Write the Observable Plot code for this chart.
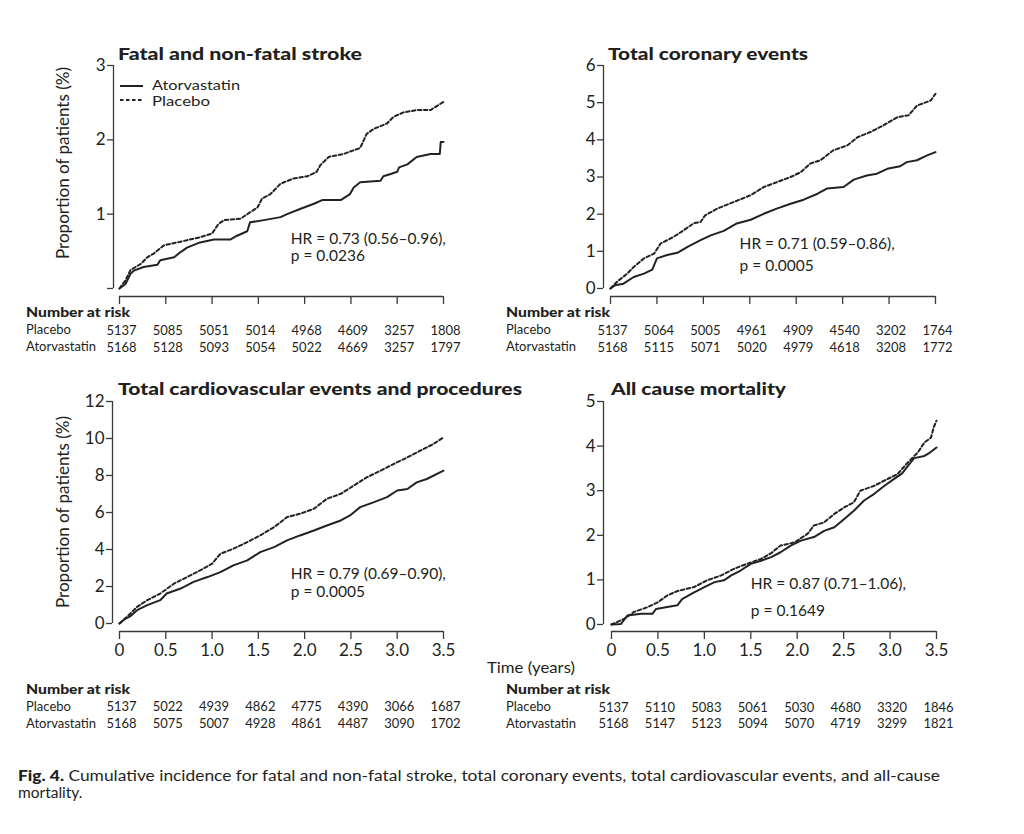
<!DOCTYPE html>
<html><head><meta charset="utf-8">
<script src="https://cdn.jsdelivr.net/npm/d3@7"></script>
<script src="https://cdn.jsdelivr.net/npm/@observablehq/plot@0.6"></script>
<style>
body{margin:0;background:#fff;}
#fig{position:relative;width:1024px;height:834px;background:#fff;overflow:hidden;}
#fig svg{position:absolute;overflow:visible;}
</style></head><body><div id="fig"></div>
<script>
// ---------- data ----------
const timeTicks = [0, 0.5, 1, 1.5, 2, 2.5, 3, 3.5];

const strokeAtorvastatin = [[0,0],[0.065,0.06],[0.12,0.2],[0.155,0.24],[0.26,0.29],[0.41,0.32],[0.44,0.38],[0.59,0.42],[0.66,0.49],[0.73,0.55],[0.87,0.62],[1.02,0.66],[1.2,0.66],[1.27,0.71],[1.38,0.77],[1.41,0.89],[1.56,0.92],[1.74,0.96],[1.81,1.0],[1.95,1.07],[2.1,1.14],[2.19,1.19],[2.39,1.19],[2.49,1.27],[2.53,1.36],[2.6,1.43],[2.82,1.45],[2.85,1.51],[2.93,1.54],[3.0,1.57],[3.02,1.63],[3.11,1.67],[3.21,1.77],[3.36,1.81],[3.46,1.81],[3.47,1.97],[3.5,1.97]];
const strokePlacebo = [[0,0],[0.065,0.11],[0.12,0.25],[0.23,0.33],[0.3,0.42],[0.37,0.47],[0.48,0.58],[0.55,0.6],[0.73,0.65],[0.87,0.69],[1.0,0.74],[1.07,0.87],[1.13,0.92],[1.31,0.94],[1.38,1.0],[1.49,1.09],[1.54,1.21],[1.63,1.27],[1.74,1.41],[1.88,1.48],[2.03,1.51],[2.13,1.57],[2.17,1.66],[2.26,1.77],[2.42,1.81],[2.6,1.89],[2.67,2.08],[2.75,2.15],[2.89,2.22],[2.96,2.31],[3.07,2.37],[3.21,2.4],[3.36,2.4],[3.41,2.44],[3.5,2.51]];

const coronaryAtorvastatin = [[0,0],[0.05,0.09],[0.14,0.13],[0.25,0.31],[0.36,0.4],[0.45,0.51],[0.5,0.81],[0.61,0.9],[0.72,0.96],[0.83,1.12],[0.97,1.3],[1.08,1.43],[1.22,1.55],[1.36,1.75],[1.51,1.85],[1.65,2.01],[1.79,2.15],[1.94,2.28],[2.08,2.39],[2.23,2.55],[2.33,2.69],[2.51,2.73],[2.62,2.93],[2.76,3.04],[2.87,3.09],[2.98,3.22],[3.12,3.29],[3.19,3.4],[3.3,3.45],[3.41,3.58],[3.5,3.67]];
const coronaryPlacebo = [[0,0],[0.07,0.18],[0.18,0.4],[0.25,0.58],[0.36,0.81],[0.47,0.94],[0.54,1.21],[0.68,1.39],[0.79,1.57],[0.9,1.76],[0.97,1.79],[1.02,1.97],[1.15,2.15],[1.33,2.33],[1.51,2.51],[1.65,2.73],[1.79,2.86],[1.94,3.0],[2.05,3.13],[2.15,3.36],[2.26,3.45],[2.4,3.72],[2.55,3.85],[2.66,4.07],[2.8,4.21],[2.94,4.39],[3.09,4.61],[3.21,4.66],[3.3,4.92],[3.45,5.06],[3.5,5.24]];

const cardiovascularAtorvastatin = [[0,0],[0.05,0.22],[0.12,0.4],[0.19,0.72],[0.3,0.99],[0.44,1.26],[0.51,1.62],[0.66,1.89],[0.8,2.25],[0.95,2.51],[1.09,2.78],[1.23,3.14],[1.38,3.41],[1.52,3.86],[1.67,4.13],[1.81,4.49],[1.95,4.76],[2.1,5.03],[2.24,5.3],[2.39,5.57],[2.49,5.84],[2.6,6.29],[2.75,6.56],[2.89,6.83],[3.0,7.19],[3.11,7.27],[3.21,7.63],[3.32,7.81],[3.5,8.26]];
const cardiovascularPlacebo = [[0,0],[0.08,0.36],[0.19,0.9],[0.3,1.26],[0.44,1.62],[0.59,2.16],[0.73,2.51],[0.87,2.87],[1.0,3.23],[1.09,3.77],[1.23,4.04],[1.38,4.4],[1.52,4.76],[1.67,5.21],[1.81,5.75],[1.95,5.93],[2.1,6.2],[2.24,6.74],[2.39,7.01],[2.53,7.45],[2.67,7.9],[2.82,8.26],[2.96,8.62],[3.11,8.98],[3.25,9.34],[3.39,9.7],[3.5,10.06]];

const mortalityAtorvastatin = [[0,0],[0.1,0.01],[0.17,0.2],[0.32,0.24],[0.44,0.24],[0.48,0.35],[0.6,0.39],[0.71,0.43],[0.76,0.57],[0.89,0.72],[1.0,0.84],[1.11,0.95],[1.21,0.99],[1.29,1.1],[1.39,1.21],[1.5,1.36],[1.61,1.43],[1.72,1.51],[1.82,1.62],[1.93,1.77],[2.04,1.88],[2.18,1.96],[2.29,2.1],[2.4,2.18],[2.51,2.37],[2.61,2.55],[2.72,2.78],[2.83,2.93],[2.94,3.11],[3.04,3.26],[3.13,3.39],[3.22,3.63],[3.26,3.73],[3.37,3.78],[3.42,3.84],[3.5,3.97]];
const mortalityPlacebo = [[0,0],[0.14,0.13],[0.24,0.28],[0.39,0.39],[0.5,0.5],[0.6,0.65],[0.71,0.75],[0.89,0.84],[1.03,0.99],[1.18,1.1],[1.32,1.25],[1.46,1.36],[1.61,1.47],[1.72,1.6],[1.82,1.77],[1.97,1.84],[2.11,2.03],[2.18,2.22],[2.29,2.29],[2.4,2.48],[2.51,2.63],[2.61,2.74],[2.68,3.0],[2.83,3.11],[2.97,3.26],[3.08,3.37],[3.19,3.63],[3.3,3.86],[3.37,4.08],[3.44,4.19],[3.47,4.42],[3.5,4.57]];

const strokeRiskPlacebo = [5137,5085,5051,5014,4968,4609,3257,1808];
const strokeRiskAtorvastatin = [5168,5128,5093,5054,5022,4669,3257,1797];
const coronaryRiskPlacebo = [5137,5064,5005,4961,4909,4540,3202,1764];
const coronaryRiskAtorvastatin = [5168,5115,5071,5020,4979,4618,3208,1772];
const cardiovascularRiskPlacebo = [5137,5022,4939,4862,4775,4390,3066,1687];
const cardiovascularRiskAtorvastatin = [5168,5075,5007,4928,4861,4487,3090,1702];
const mortalityRiskPlacebo = [5137,5110,5083,5061,5030,4680,3320,1846];
const mortalityRiskAtorvastatin = [5168,5147,5123,5094,5070,4719,3299,1821];

const titles = ["Fatal and non-fatal stroke","Total coronary events","Total cardiovascular events and procedures","All cause mortality"];
const hrTexts = ["HR = 0.73 (0.56\u20130.96),\np = 0.0236","HR = 0.71 (0.59\u20130.86),\np = 0.0005","HR = 0.79 (0.69\u20130.90),\np = 0.0005","HR = 0.87 (0.71\u20131.06),\np = 0.1649"];

// ---------- drawing ----------
const FONT = "Lato, 'Noto Sans', 'DejaVu Sans', sans-serif";
const INK = "#231f20";
const fig = document.getElementById("fig");

function panel(cfg) {
  const toObj = arr => arr.map(([t, v]) => ({t, v}));
  const rowP = timeTicks.map((t, i) => ({t, n: cfg.riskP[i]}));
  const rowA = timeTicks.map((t, i) => ({t, n: cfg.riskA[i]}));
  const chart = Plot.plot({
    width: cfg.width, height: cfg.height,
    marginLeft: cfg.mL, marginRight: cfg.mR, marginTop: cfg.mT, marginBottom: cfg.mB,
    x: {domain: [0, 3.5], insetLeft: cfg.insL},
    y: {domain: [0, cfg.yMax], insetBottom: cfg.insB},
    style: {fontFamily: FONT, color: INK, background: "transparent", overflow: "visible"},
    marks: [
      Plot.ruleX([0], {x: 0, y1: 0, y2: cfg.yMax, dx: -cfg.insL, stroke: "#3a3a3a", strokeWidth: 1.3}),
      Plot.ruleY([0], {y: 0, x1: 0, x2: 3.5, dy: cfg.insB, stroke: "#3a3a3a", strokeWidth: 1.3}),
      Plot.axisY({ticks: d3.range(0, cfg.yMax + 1, cfg.yStep), tickSize: 6, tickPadding: 2,
        tickFormat: cfg.hideZero ? (d => d === 0 ? "" : String(d)) : (d => String(d)),
        label: null, fontSize: 17, stroke: "#3a3a3a", strokeWidth: 1.3}),
      Plot.axisX({ticks: timeTicks, tickSize: 8, tickPadding: 4,
        tickFormat: cfg.xLabels ? (d => d === 0 ? "0" : d.toFixed(1)) : (() => ""),
        label: null, fontSize: 17, stroke: "#3a3a3a", strokeWidth: 1.3}),
      Plot.line(toObj(cfg.plac), {x: "t", y: "v", stroke: "#222", strokeWidth: 2, strokeDasharray: "3.5,2.5"}),
      Plot.line(toObj(cfg.ator), {x: "t", y: "v", stroke: "#222", strokeWidth: 2}),
      Plot.text([cfg.hr], {x: cfg.hrX, y: cfg.hrY, text: d => d, textAnchor: "start", lineAnchor: "top",
        lineHeight: cfg.hrLH, fontSize: 15.5, fill: INK}),
      Plot.text(rowP, {x: "t", text: d => String(d.n), frameAnchor: "bottom", dy: cfg.rowDy[0], dx: 2, lineAnchor: "bottom", fontSize: 13, fill: INK}),
      Plot.text(rowA, {x: "t", text: d => String(d.n), frameAnchor: "bottom", dy: cfg.rowDy[1], dx: 2, lineAnchor: "bottom", fontSize: 13, fill: INK})
    ]
  });
  chart.style.left = cfg.left + "px";
  chart.style.top = cfg.top + "px";
  fig.appendChild(chart);
}

panel({left: 70, top: 50, width: 390, height: 310, mL: 43, mR: 17, mT: 15, mB: 64, insL: 6, insB: 8,
  yMax: 3, yStep: 1, hideZero: true, xLabels: false, ator: strokeAtorvastatin, plac: strokePlacebo,
  riskP: strokeRiskPlacebo, riskA: strokeRiskAtorvastatin, rowDy: [38, 55],
  hr: hrTexts[0], hrX: 1.85, hrY: 0.76, hrLH: 1.1});
panel({left: 560, top: 50, width: 400, height: 310, mL: 43, mR: 25, mT: 15, mB: 64, insL: 7, insB: 8,
  yMax: 6, yStep: 1, hideZero: false, xLabels: false, ator: coronaryAtorvastatin, plac: coronaryPlacebo,
  riskP: coronaryRiskPlacebo, riskA: coronaryRiskAtorvastatin, rowDy: [38, 55],
  hr: hrTexts[1], hrX: 1.39, hrY: 1.48, hrLH: 1.42});
panel({left: 70, top: 386, width: 390, height: 350, mL: 42, mR: 17, mT: 15, mB: 105, insL: 7, insB: 8,
  yMax: 12, yStep: 2, hideZero: false, xLabels: true, ator: cardiovascularAtorvastatin, plac: cardiovascularPlacebo,
  riskP: cardiovascularRiskPlacebo, riskA: cardiovascularRiskAtorvastatin, rowDy: [79, 96],
  hr: hrTexts[2], hrX: 1.85, hrY: 3.06, hrLH: 1.12});
panel({left: 560, top: 386, width: 400, height: 350, mL: 43, mR: 24, mT: 15, mB: 105, insL: 8, insB: 7,
  yMax: 5, yStep: 1, hideZero: false, xLabels: true, ator: mortalityAtorvastatin, plac: mortalityPlacebo,
  riskP: mortalityRiskPlacebo, riskA: mortalityRiskAtorvastatin, rowDy: [80, 96],
  hr: hrTexts[3], hrX: 1.5, hrY: 1.21, hrLH: 1.7});

// ---------- text overlay (titles, legend, labels, caption) ----------
const ov = d3.select(fig).append("svg").attr("width", 1024).attr("height", 834)
  .style("left", "0px").style("top", "0px").attr("font-family", FONT).attr("fill", INK);

function txt(x, y, s, o = {}) {
  const t = ov.append("text").attr("x", x).attr("y", y).text(s)
    .attr("font-size", o.size || 16).attr("font-weight", o.weight || 400);
  if (o.len) t.attr("textLength", o.len).attr("lengthAdjust", "spacingAndGlyphs");
  if (o.anchor) t.attr("text-anchor", o.anchor);
  if (o.rotate) t.attr("transform", `rotate(-90,${x},${y})`);
  return t;
}
// titles
txt(118, 60, titles[0], {size: 17.5, weight: 900, len: 244});
txt(608, 60, titles[1], {size: 17.5, weight: 900, len: 200});
txt(118, 395, titles[2], {size: 17.5, weight: 900, len: 404});
txt(611, 395, titles[3], {size: 17.5, weight: 900, len: 175});

// legend
ov.append("line").attr("x1", 120).attr("x2", 143).attr("y1", 86).attr("y2", 86).attr("stroke", "#222").attr("stroke-width", 2);
ov.append("line").attr("x1", 120).attr("x2", 143).attr("y1", 100).attr("y2", 100).attr("stroke", "#222").attr("stroke-width", 2).attr("stroke-dasharray", "3.5,2.5");
txt(152, 90, "Atorvastatin", {size: 14, len: 88});
txt(152, 106, "Placebo", {size: 14, len: 58});

// y-axis labels
txt(69, 163, "Proportion of patients (%)", {size: 17, anchor: "middle", rotate: true, len: 192});
txt(69, 512, "Proportion of patients (%)", {size: 17, anchor: "middle", rotate: true, len: 192});
// x-axis label
txt(487, 673, "Time (years)", {size: 16, len: 88});

// number-at-risk row labels
for (const [x, y0] of [[26, 317], [506, 317], [26, 694], [506, 694]]) {
  txt(x, y0, "Number at risk", {size: 13, weight: 900, len: 104});
  txt(x, y0 + 17, "Placebo", {size: 13});
  txt(x, y0 + 34, "Atorvastatin", {size: 13});
}

// caption
const cap = ov.append("text").attr("x", 18).attr("y", 781).attr("font-size", 15.5).attr("textLength", 922).attr("lengthAdjust", "spacingAndGlyphs");
cap.append("tspan").attr("font-weight", 900).text("Fig. 4.");
cap.append("tspan").text(" Cumulative incidence for fatal and non-fatal stroke, total coronary events, total cardiovascular events, and all-cause");
txt(18, 798, "mortality.", {size: 15.5});
</script></body></html>
